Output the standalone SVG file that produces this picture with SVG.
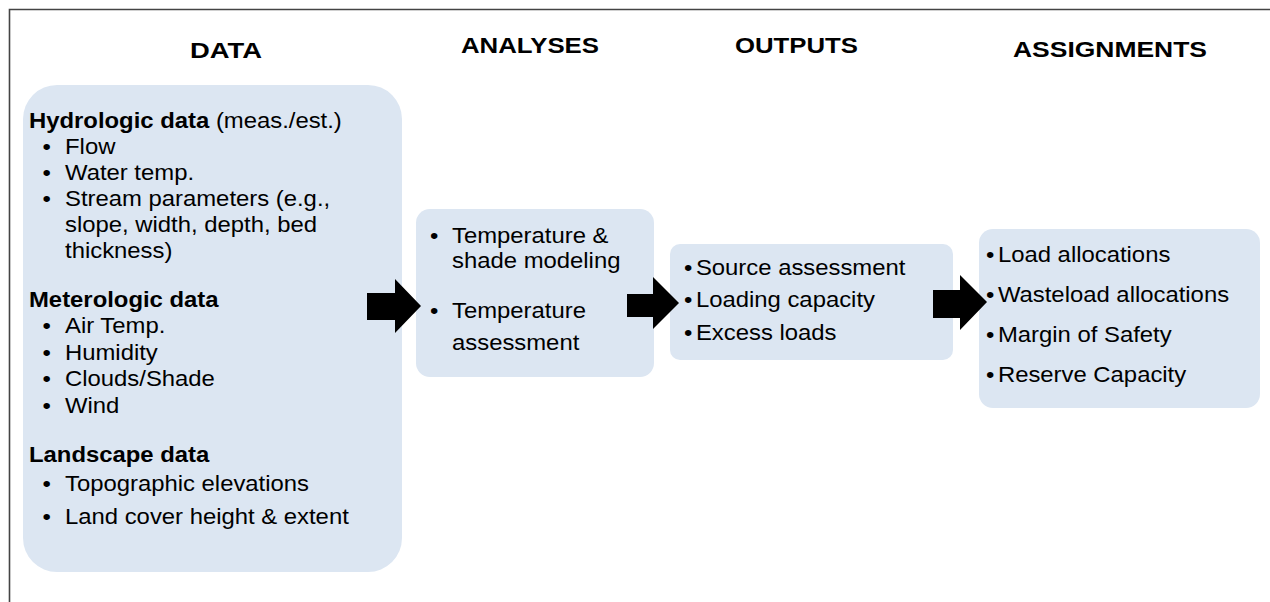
<svg xmlns="http://www.w3.org/2000/svg" width="1270" height="602" viewBox="0 0 1270 602">
<style>
.box{fill:#dce6f2;stroke:none}
.hdr{font-family:"Liberation Sans",Arial,sans-serif;font-weight:bold;font-size:22px;fill:#000}
.t{font-family:"Liberation Sans",Arial,sans-serif;font-size:22px;fill:#000}
.b{font-weight:bold}
.arrow{fill:#000;stroke:none}
.frame{fill:none;stroke:#444;stroke-width:1.6}
</style>
<rect width="1270" height="602" fill="#fff"/>
<path class="frame" d="M9.5,602 V9.5 H1270"/>

<g id="headers">
<text class="hdr" x="190" y="58" textLength="72" lengthAdjust="spacingAndGlyphs">DATA</text>
<text class="hdr" x="461" y="53" textLength="138" lengthAdjust="spacingAndGlyphs">ANALYSES</text>
<text class="hdr" x="735" y="53" textLength="123" lengthAdjust="spacingAndGlyphs">OUTPUTS</text>
<text class="hdr" x="1013" y="57" textLength="194" lengthAdjust="spacingAndGlyphs">ASSIGNMENTS</text>
</g>

<g id="data">
<rect class="box" x="23" y="85" width="379" height="487" rx="34"/>
<g transform="translate(29 0) scale(1.085 1)" class="t">
<text x="0" y="128"><tspan class="b">Hydrologic data</tspan> (meas./est.)</text>
<text x="12.4" y="154">•</text><text x="33.2" y="154">Flow</text>
<text x="12.4" y="180">•</text><text x="33.2" y="180">Water temp.</text>
<text x="12.4" y="206">•</text><text x="33.2" y="206">Stream parameters (e.g.,</text>
<text x="33.2" y="232">slope, width, depth, bed</text>
<text x="33.2" y="258">thickness)</text>
<text x="0" y="307" class="b">Meterologic data</text>
<text x="12.4" y="333">•</text><text x="33.2" y="333">Air Temp.</text>
<text x="12.4" y="360">•</text><text x="33.2" y="360">Humidity</text>
<text x="12.4" y="386">•</text><text x="33.2" y="386">Clouds/Shade</text>
<text x="12.4" y="413">•</text><text x="33.2" y="413">Wind</text>
<text x="0" y="462" class="b">Landscape data</text>
<text x="12.4" y="491">•</text><text x="33.2" y="491">Topographic elevations</text>
<text x="12.4" y="524">•</text><text x="33.2" y="524">Land cover height &amp; extent</text>
</g>
</g>

<g id="analyses">
<rect class="box" x="416" y="209" width="238" height="168" rx="14"/>
<g transform="translate(430 0) scale(1.085 1)" class="t">
<text x="0" y="243">•</text><text x="20.3" y="243">Temperature &amp;</text>
<text x="20.3" y="268">shade modeling</text>
<text x="0" y="318">•</text><text x="20.3" y="318">Temperature</text>
<text x="20.3" y="350">assessment</text>
</g>
</g>

<g id="outputs">
<rect class="box" x="670" y="244" width="283" height="116" rx="10"/>
<g transform="translate(684 0) scale(1.085 1)" class="t">
<text x="0" y="275">•</text><text x="11" y="275">Source assessment</text>
<text x="0" y="307">•</text><text x="11" y="307">Loading capacity</text>
<text x="0" y="340">•</text><text x="11" y="340">Excess loads</text>
</g>
</g>

<g id="assignments">
<rect class="box" x="979" y="229" width="281" height="179" rx="14"/>
<g transform="translate(986 0) scale(1.085 1)" class="t">
<text x="0" y="262">•</text><text x="11" y="262">Load allocations</text>
<text x="0" y="302">•</text><text x="11" y="302">Wasteload allocations</text>
<text x="0" y="342">•</text><text x="11" y="342">Margin of Safety</text>
<text x="0" y="382">•</text><text x="11" y="382">Reserve Capacity</text>
</g>
</g>

<g id="connectors">
<polygon class="arrow" points="367,293 395,293 395,279 421,306 395,333 395,320 367,320"/>
<polygon class="arrow" points="627,294 653,294 653,277 679,303 653,329 653,317 627,317"/>
<polygon class="arrow" points="933,290 960,290 960,275 987,302 960,330 960,318 933,318"/>
</g>
</svg>
